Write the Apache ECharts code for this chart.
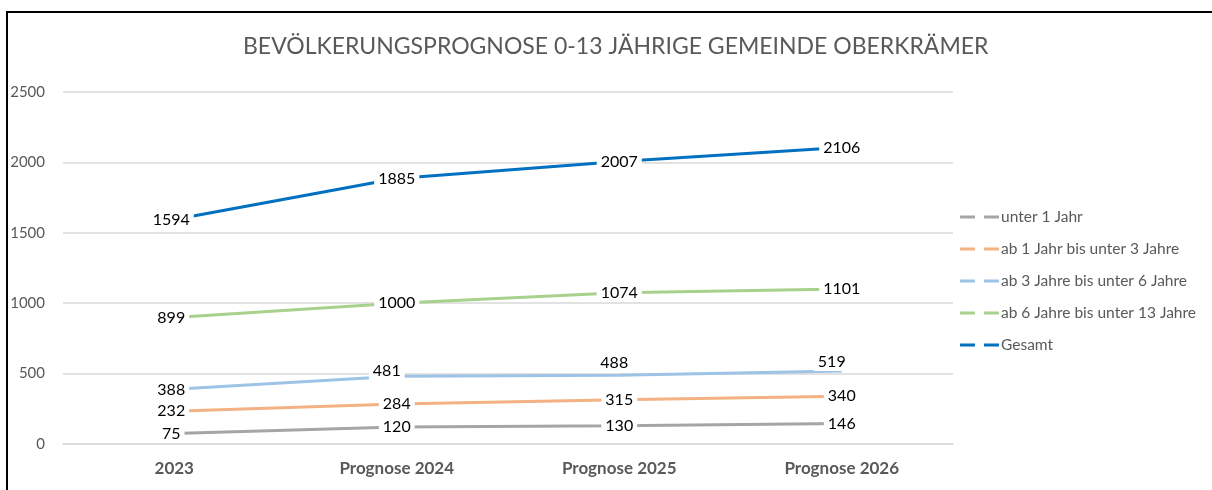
<!DOCTYPE html>
<html>
<head>
<meta charset="utf-8">
<script src="https://cdn.jsdelivr.net/npm/echarts@6/dist/echarts.min.js"></script>
<style>
  html, body { margin: 0; padding: 0; background: #fff; }
  #chart { width: 1212px; height: 490px; }
</style>
</head>
<body>
<div id="chart"></div>
<script>
const categories = ['2023', 'Prognose 2024', 'Prognose 2025', 'Prognose 2026']
const seriesNames = [
  'unter 1 Jahr',
  'ab 1 Jahr bis unter 3 Jahre',
  'ab 3 Jahre bis unter 6 Jahre',
  'ab 6 Jahre bis unter 13 Jahre',
  'Gesamt'
]
const unter1 = [75, 120, 130, 146]
const ab1bis3 = [232, 284, 315, 340]
const ab3bis6 = [388, 481, 488, 519]
const ab6bis13 = [899, 1000, 1074, 1101]
const gesamt = [1594, 1885, 2007, 2106]
const colors = ['#A5A5A5', '#F4B183', '#9DC3E6', '#A9D18E', '#0070C0']

const font = 'Lato, "Open Sans", sans-serif'

// label offsets for the 3-6 line (labels sit a bit above the line in the original)
const offsets3bis6 = [[-3, 0], [-10, -5], [-5, -12], [-10, -9]]

function makeSeries(name, values, color, offs) {
  return {
    name: name,
    type: 'line',
    data: values.map((v, i) => ({
      value: v,
      label: { offset: offs ? offs[i] : (i === 0 ? [-3, 0] : [0, 0]) }
    })),
    symbol: 'circle',
    symbolSize: 0,
    showSymbol: true,
    lineStyle: { width: 3, color: color },
    itemStyle: { color: color },
    label: {
      show: true,
      position: 'inside',
      color: '#000',
      fontFamily: font,
      fontSize: 16,
      backgroundColor: '#fff',
      padding: [1, 4]
    },
    emphasis: { disabled: true }
  }
}

const chart = echarts.init(document.getElementById('chart'))
chart.setOption({
  animation: false,
  title: {
    text: 'BEVÖLKERUNGSPROGNOSE 0-13 JÄHRIGE GEMEINDE OBERKRÄMER',
    left: 238,
    top: 30,
    textStyle: {
      fontFamily: font,
      fontWeight: 'normal',
      fontSize: 23,
      color: '#595959'
    }
  },
  graphic: [{
    type: 'rect',
    shape: { x: 7, y: 12, width: 1400, height: 700 },
    style: { fill: 'none', stroke: '#000', lineWidth: 2 },
    silent: true
  }],
  legend: {
    orient: 'vertical',
    left: 955,
    top: 204,
    itemWidth: 39,
    itemHeight: 14,
    itemGap: 16,
    icon: 'path://M0,0H15V3H0Z M24,0H39V3H24Z',
    textStyle: {
      fontFamily: font,
      fontSize: 15.5,
      color: '#595959',
      padding: [0, 0, 0, -3]
    },
    data: seriesNames
  },
  grid: {
    left: 63,
    right: 259,
    top: 92,
    bottom: 46,
    containLabel: false
  },
  xAxis: {
    type: 'category',
    data: categories,
    boundaryGap: true,
    axisLine: { show: true, lineStyle: { color: '#D9D9D9', width: 1.5 } },
    axisTick: { show: false },
    axisLabel: {
      fontFamily: font,
      fontSize: 17,
      fontWeight: 'bold',
      color: '#595959',
      margin: 16
    }
  },
  yAxis: {
    type: 'value',
    min: 0,
    max: 2500,
    interval: 500,
    axisLine: { show: false },
    axisTick: { show: false },
    axisLabel: {
      fontFamily: font,
      fontSize: 15,
      color: '#595959',
      margin: 18,
      formatter: v => String(v)
    },
    splitLine: { lineStyle: { color: '#D9D9D9', width: 1.5 } }
  },
  series: [
    makeSeries(seriesNames[0], unter1, colors[0]),
    makeSeries(seriesNames[1], ab1bis3, colors[1]),
    makeSeries(seriesNames[2], ab3bis6, colors[2], offsets3bis6),
    makeSeries(seriesNames[3], ab6bis13, colors[3]),
    makeSeries(seriesNames[4], gesamt, colors[4])
  ]
})
</script>
</body>
</html>
